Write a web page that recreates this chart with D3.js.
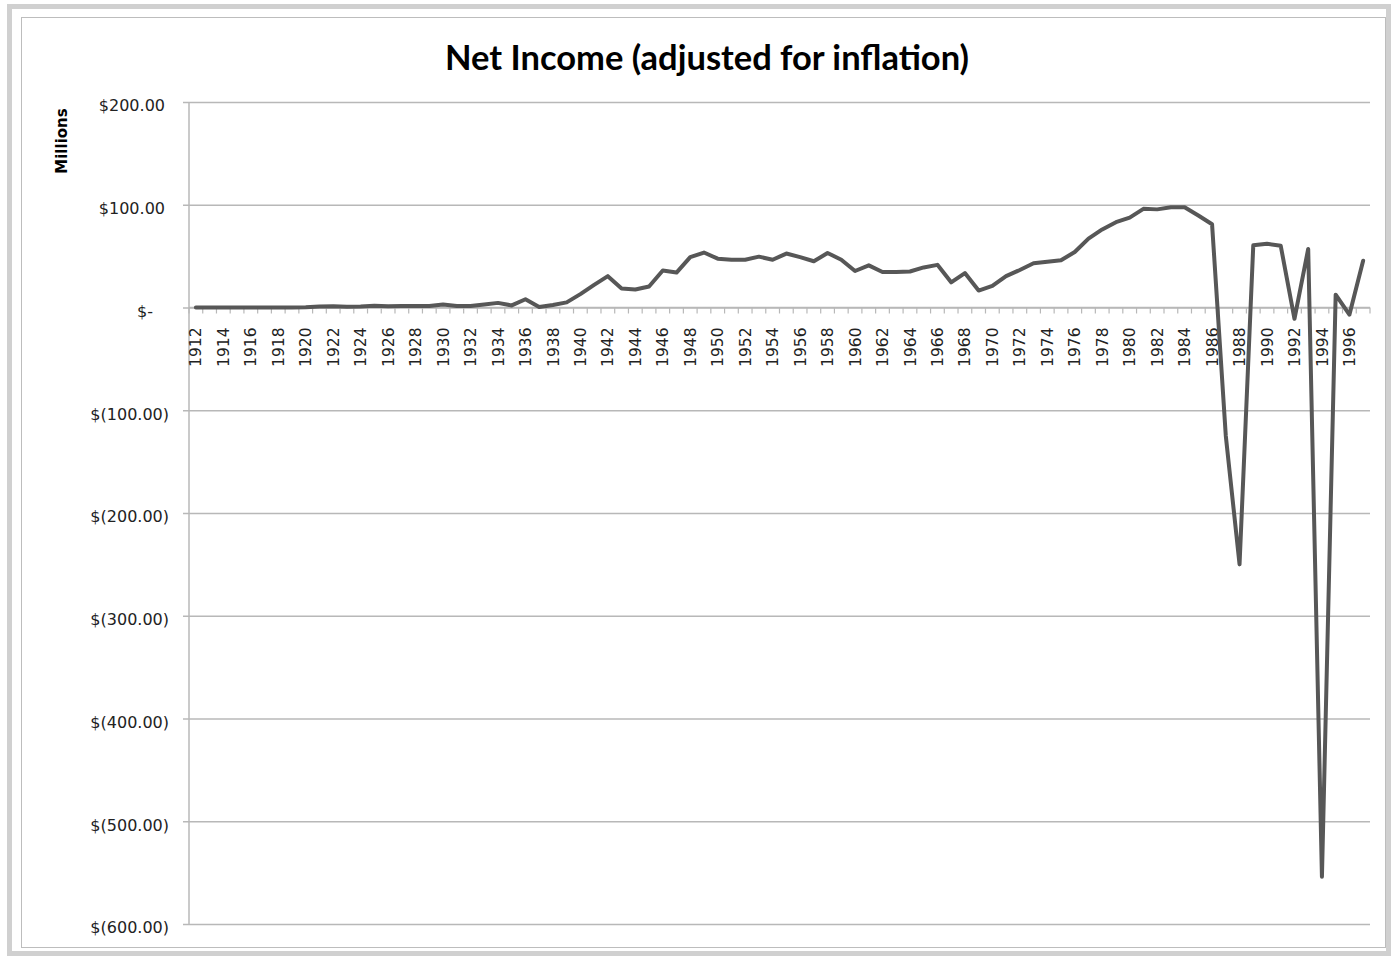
<!DOCTYPE html>
<html>
<head>
<meta charset="utf-8">
<script src="https://cdn.jsdelivr.net/npm/d3@7"></script>
<style>
  body { margin: 0; background: #fff; }
</style>
</head>
<body>
<div id="chart"></div>
<script>
// Net Income (adjusted for inflation), millions of dollars

const years = [
  1912, 1913, 1914, 1915, 1916, 1917, 1918, 1919, 1920, 1921,
  1922, 1923, 1924, 1925, 1926, 1927, 1928, 1929, 1930, 1931,
  1932, 1933, 1934, 1935, 1936, 1937, 1938, 1939, 1940, 1941,
  1942, 1943, 1944, 1945, 1946, 1947, 1948, 1949, 1950, 1951,
  1952, 1953, 1954, 1955, 1956, 1957, 1958, 1959, 1960, 1961,
  1962, 1963, 1964, 1965, 1966, 1967, 1968, 1969, 1970, 1971,
  1972, 1973, 1974, 1975, 1976, 1977, 1978, 1979, 1980, 1981,
  1982, 1983, 1984, 1985, 1986, 1987, 1988, 1989, 1990, 1991,
  1992, 1993, 1994, 1995, 1996, 1997
];

const netIncome = [
  0, 0, 0, 0, 0, 0, 0, 0, 0.3, 1,
  1.2, 0.8, 1, 1.8, 1.2, 1.5, 1.5, 1.5, 3, 1.5,
  1.5, 3, 4.5, 2, 8, 0.5, 2.5, 5, 13, 22,
  30.5, 18.5, 17.5, 20.5, 36, 34, 49, 53.5, 47.5, 46.5,
  46.5, 49.5, 46.5, 52.5, 49, 45, 53, 46.5, 35.5, 41,
  34.5, 34.5, 35, 39, 41.5, 24.5, 33.5, 16.5, 21, 30.5,
  36.5, 43, 44.5, 46, 54, 67, 76, 83, 87.5, 96,
  95.5, 97.5, 97.5, 89.5, 81, -125, -250, 60.5, 62, 60,
  -11, 57, -554, 12.5, -7, 45.5
];

const yTicks = [200, 100, 0, -100, -200, -300, -400, -500, -600];

const width = 1391;
const height = 958;
const plot = {left: 189, right: 1370, top: 102, bottom: 924};

const data = years.map((yr, i) => ({year: yr, value: netIncome[i]}));

const svg = d3.select("#chart")
    .append("svg")
    .attr("width", width)
    .attr("height", height)
    .style("display", "block");

// outer frames
svg.append("rect")
    .attr("x", 9.5).attr("y", 6.5)
    .attr("width", 1379).attr("height", 947)
    .attr("fill", "none")
    .attr("stroke", "#d0d0d0")
    .attr("stroke-width", 5);

svg.append("rect")
    .attr("x", 21.5).attr("y", 17.5)
    .attr("width", 1364).attr("height", 930)
    .attr("fill", "none")
    .attr("stroke", "#bdbdbd");

const xScale = d3.scaleBand()
    .domain(years)
    .range([plot.left, plot.right]);

const yScale = d3.scaleLinear()
    .domain([-600, 200])
    .range([plot.bottom, plot.top]);

const bw = xScale.bandwidth();
const y0 = yScale(0);

// gridlines + y labels
const yAxis = d3.axisLeft(yScale)
    .tickValues(yTicks)
    .tickSize(plot.right - plot.left + 6)
    .tickPadding(14)
    .tickFormat(d => {
        if (d === 0) return "$-";
        const s = d3.format(",.2f")(Math.abs(d));
        return d < 0 ? `$(${s})` : `$${s}`;
    });

const gy = svg.append("g")
    .attr("transform", `translate(${plot.right}, 0)`)
    .call(yAxis);

gy.select(".domain").remove();
gy.selectAll(".tick line")
    .attr("stroke", "#b8b8b8")
    .attr("stroke-width", 1.5);
gy.selectAll(".tick text")
    .attr("font-family", "DejaVu Sans")
    .attr("font-size", 16)
    .attr("fill", "#222")
    .attr("dy", "0.55em")
    .attr("dx", d => d > 0 ? -4 : (d === 0 ? -16 : 0));

// y axis line
svg.append("line")
    .attr("x1", plot.left).attr("x2", plot.left)
    .attr("y1", plot.top).attr("y2", plot.bottom)
    .attr("stroke", "#b8b8b8")
    .attr("stroke-width", 1.5);

// x axis line at zero
svg.append("line")
    .attr("x1", plot.left).attr("x2", plot.right)
    .attr("y1", y0).attr("y2", y0)
    .attr("stroke", "#b8b8b8")
    .attr("stroke-width", 1.5);

// x tick marks between categories
const boundaries = years.map(yr => xScale(yr)).concat([plot.right]);
svg.append("g")
    .selectAll("line")
    .data(boundaries)
    .join("line")
    .attr("x1", d => d).attr("x2", d => d)
    .attr("y1", y0).attr("y2", y0 + 6)
    .attr("stroke", "#b8b8b8")
    .attr("stroke-width", 1.2);

// x labels every other year
svg.append("g")
    .selectAll("text")
    .data(years.filter((yr, i) => i % 2 === 0))
    .join("text")
    .attr("transform", d => `translate(${xScale(d) + bw / 2}, ${y0 + 20}) rotate(-90)`)
    .attr("text-anchor", "end")
    .attr("dy", "0.36em")
    .attr("font-family", "DejaVu Sans")
    .attr("font-size", 15.5)
    .attr("fill", "#222")
    .text(d => d);

// the line
const line = d3.line()
    .x(d => xScale(d.year) + bw / 2)
    .y(d => yScale(d.value));

svg.append("path")
    .datum(data)
    .attr("fill", "none")
    .attr("stroke", "#575757")
    .attr("stroke-width", 4)
    .attr("stroke-linejoin", "round")
    .attr("stroke-linecap", "round")
    .attr("d", line);

// title
svg.append("text")
    .attr("x", 707)
    .attr("y", 70)
    .attr("text-anchor", "middle")
    .attr("font-family", "Lato")
    .attr("font-weight", "bold")
    .attr("font-size", 34.5)
    .attr("fill", "#000")
    .text("Net Income (adjusted for inflation)");

// y axis title
svg.append("text")
    .attr("transform", "translate(62, 141) rotate(-90)")
    .attr("text-anchor", "middle")
    .attr("dy", "0.35em")
    .attr("font-family", "DejaVu Sans")
    .attr("font-weight", "bold")
    .attr("font-size", 15)
    .attr("fill", "#000")
    .text("Millions");
</script>
</body>
</html>
